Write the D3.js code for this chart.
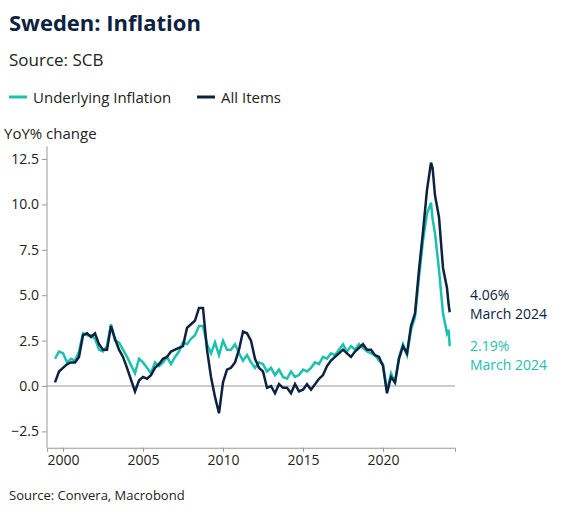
<!DOCTYPE html><html><head><meta charset="utf-8"><script src="https://d3js.org/d3.v7.min.js"></script>
<style>body{margin:0;background:#fff;font-family:'Open Sans',sans-serif}</style></head><body><svg width="566" height="521"></svg><script>
const dates=[1999.5,1999.75,2000,2000.25,2000.5,2000.75,2001,2001.25,2001.5,2001.75,2002,2002.25,2002.5,2002.75,2003,2003.25,2003.5,2003.75,2004,2004.5,2004.75,2005,2005.25,2005.5,2005.75,2006,2006.25,2006.5,2006.75,2007,2007.25,2007.5,2007.75,2008,2008.25,2008.5,2008.75,2009,2009.25,2009.5,2009.75,2010,2010.25,2010.5,2010.75,2011,2011.25,2011.5,2011.75,2012,2012.25,2012.5,2012.75,2013,2013.25,2013.5,2013.75,2014,2014.25,2014.5,2014.75,2015,2015.25,2015.5,2015.75,2016,2016.25,2016.5,2016.75,2017,2017.25,2017.5,2017.75,2018,2018.25,2018.5,2018.75,2019,2019.25,2019.5,2019.75,2020,2020.25,2020.5,2020.75,2021,2021.25,2021.5,2021.75,2022,2022.25,2022.5,2022.75,2023,2023.1,2023.25,2023.5,2023.75,2024,2024.1,2024.17];
const allItems=[0.2,0.8,1.0,1.2,1.3,1.3,1.6,2.8,2.9,2.7,2.9,2.3,2.0,2.0,3.3,2.6,2.0,1.6,1.0,-0.3,0.3,0.5,0.4,0.6,1.0,1.2,1.5,1.6,1.9,2.0,2.1,2.2,3.2,3.4,3.6,4.3,4.3,2.0,0.5,-0.6,-1.5,0.2,0.9,1.0,1.3,2.0,3.0,2.9,2.5,1.5,1.0,0.8,-0.1,0.0,-0.4,0.1,-0.1,-0.1,-0.4,0.1,-0.3,-0.2,0.1,-0.2,0.1,0.4,0.6,1.1,1.4,1.6,1.8,2.0,1.8,1.6,1.9,2.1,2.3,2.0,2.0,1.7,1.6,1.1,-0.4,0.5,0.2,1.5,2.2,1.8,3.3,4.0,6.4,8.5,10.8,12.3,12.0,10.5,9.3,6.5,5.4,4.5,4.06];
const underlying=[1.5,1.9,1.8,1.3,1.5,1.4,1.9,2.9,2.8,2.8,2.6,2.0,1.9,2.2,3.4,2.5,2.4,2.0,1.6,0.7,1.5,1.3,1.0,0.7,1.3,1.1,1.3,1.6,1.2,1.6,1.9,2.4,2.3,2.6,2.8,3.3,3.3,2.3,1.8,2.4,1.7,2.5,2.0,2.0,2.3,1.8,1.4,1.7,1.3,1.0,1.3,1.2,0.8,1.0,0.6,0.9,0.5,0.4,0.8,0.5,0.6,0.9,0.8,1.0,1.3,1.2,1.6,1.5,1.8,1.7,2.0,2.3,1.9,2.2,2.0,2.3,2.1,1.9,1.8,1.7,1.4,1.2,-0.3,0.7,0.2,1.6,2.3,1.7,3.1,3.8,6.0,8.0,9.5,10.1,9.2,8.4,6.4,4.0,2.9,3.1,2.19];
const yTicks=[-2.5,0,2.5,5,7.5,10,12.5];
const xTicks=[2000,2005,2010,2015,2020];
const cDark="#0d2240",cTeal="#1bc1ad";
const svg=d3.select("svg");
const x=d3.scaleLinear().domain([1999,2024.5]).range([47,455]);
const y=d3.scaleLinear().domain([0,12.5]).range([386,159]);
svg.append("text").attr("x",9).attr("y",31).attr("font-size",22).attr("font-weight",700).attr("fill","#0d2240").text("Sweden: Inflation");
svg.append("text").attr("x",9).attr("y",66).attr("font-size",17).attr("fill","#222").text("Source: SCB");
const lg=[["Underlying Inflation",cTeal,9],["All Items",cDark,197]];
lg.forEach(([t,c,lx])=>{svg.append("line").attr("x1",lx).attr("x2",lx+18).attr("y1",97).attr("y2",97).attr("stroke",c).attr("stroke-width",3);
svg.append("text").attr("x",lx+24).attr("y",103).attr("font-size",15).attr("fill","#222").text(t);});
svg.append("text").attr("x",4).attr("y",139).attr("font-size",15).attr("fill","#222").text("YoY% change");
const ya=svg.append("g").attr("transform","translate(47,0)").call(d3.axisLeft(y).tickValues(yTicks).tickFormat(d3.format(".1f")).tickSize(5));
ya.select(".domain").attr("stroke","#999");ya.selectAll("line").attr("stroke","#999");
ya.selectAll("text").attr("font-size",14).attr("fill","#222").attr("font-family","Open Sans");
ya.select(".domain").attr("d","M0,"+y(-3.4)+"V"+y(13.2));
const xa=svg.append("g").attr("transform","translate(0,"+y(-3.4)+")").call(d3.axisBottom(x).tickValues(xTicks).tickFormat(d3.format("d")).tickSize(4));
xa.select(".domain").attr("stroke","#999");xa.selectAll("line").attr("stroke","#999");
xa.selectAll("text").attr("font-size",14).attr("fill","#222").attr("font-family","Open Sans");
svg.append("line").attr("x1",47).attr("x2",455).attr("y1",y(0)).attr("y2",y(0)).attr("stroke","#999");
const line=d3.line().x((d,i)=>x(dates[i])).y(d=>y(d));
svg.append("path").datum(underlying).attr("d",line).attr("fill","none").attr("stroke",cTeal).attr("stroke-width",2.5);
svg.append("path").datum(allItems).attr("d",line).attr("fill","none").attr("stroke",cDark).attr("stroke-width",2.5);
[["4.06%",cDark,300],["March 2024",cDark,319],["2.19%",cTeal,351],["March 2024",cTeal,370]].forEach(([t,c,ty])=>svg.append("text").attr("x",470).attr("y",ty).attr("font-size",14).attr("fill",c).text(t));
svg.append("text").attr("x",9).attr("y",500).attr("font-size",13).attr("fill","#222").text("Source: Convera, Macrobond");
</script></body></html>
